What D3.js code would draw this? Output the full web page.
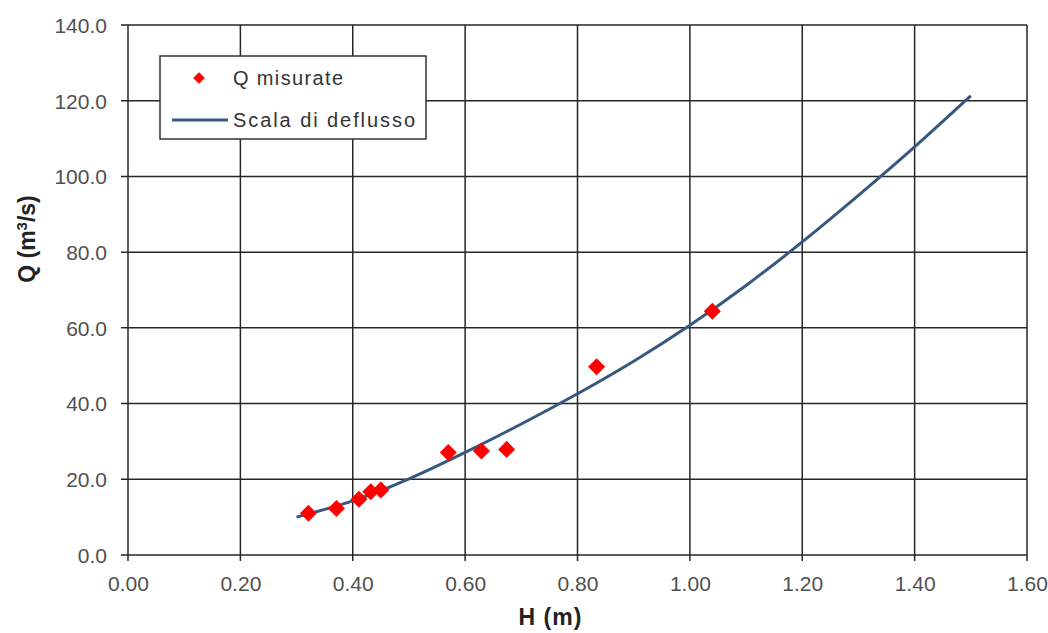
<!DOCTYPE html>
<html>
<head>
<meta charset="utf-8">
<script src="https://cdn.jsdelivr.net/npm/d3@7"></script>
<style>
  html, body { margin: 0; padding: 0; background: #fff; }
  svg { display: block; }
</style>
</head>
<body>
<svg id="chart" width="1048" height="633"></svg>
<script>
// Measured discharges
const measuredH = [0.321, 0.371, 0.411, 0.432, 0.450, 0.570, 0.629, 0.674, 0.834, 1.040];
const measuredQ = [11.0, 12.3, 14.7, 16.7, 17.2, 27.1, 27.5, 27.9, 49.7, 64.4];
// Rating curve (scala di deflusso)
const curveH = [0.30, 0.40, 0.50, 0.60, 0.70, 0.80, 0.90, 1.00, 1.10, 1.20, 1.30, 1.40, 1.50];
const curveQ = [10.0, 14.3, 20.1, 27.1, 34.6, 42.6, 51.2, 60.7, 71.2, 82.7, 95.0, 107.8, 121.3];
// Axis ticks
const xTicks = [0, 0.2, 0.4, 0.6, 0.8, 1.0, 1.2, 1.4, 1.6];
const yTicks = [0, 20, 40, 60, 80, 100, 120, 140];
const seriesNames = ["Q misurate", "Scala di deflusso"];

const svg = d3.select("#chart");
const pLeft = 128, pRight = 1027, pTop = 25, pBottom = 555;
const x = d3.scaleLinear().domain([0, 1.6]).range([pLeft, pRight]);
const y = d3.scaleLinear().domain([0, 140]).range([pBottom, pTop]);
const font = "'Liberation Sans', Arial, sans-serif";
const gridColor = "#262626";

// Grid
const g = svg.append("g");
g.selectAll("line.vg").data(xTicks).join("line")
  .attr("x1", d => x(d)).attr("x2", d => x(d))
  .attr("y1", pTop).attr("y2", pBottom + 6)
  .attr("stroke", gridColor).attr("stroke-width", 1.5);
g.selectAll("line.hg").data(yTicks).join("line")
  .attr("x1", pLeft - 7).attr("x2", pRight)
  .attr("y1", d => y(d)).attr("y2", d => y(d))
  .attr("stroke", gridColor).attr("stroke-width", 1.5);

// Axes labels via d3 axes (lines hidden, labels only)
const xAxis = d3.axisBottom(x).tickValues(xTicks).tickFormat(d3.format(".2f")).tickSize(0).tickPadding(0);
const yAxis = d3.axisLeft(y).tickValues(yTicks).tickFormat(d3.format(".1f")).tickSize(0).tickPadding(0);
const gx = svg.append("g").attr("transform", `translate(0,${pBottom})`).call(xAxis);
gx.select(".domain").remove();
gx.selectAll("text").attr("y", 29).attr("dy", "0.35em")
  .attr("font-family", font).attr("font-size", 21).attr("fill", "#505050");
const gy = svg.append("g").attr("transform", `translate(${pLeft},0)`).call(yAxis);
gy.select(".domain").remove();
gy.selectAll("text").attr("x", -21).attr("dy", "0.35em")
  .attr("font-family", font).attr("font-size", 21).attr("fill", "#505050");

// Rating curve
const curve = curveH.map((h, i) => [h, curveQ[i]]);
svg.append("path")
  .datum(curve)
  .attr("d", d3.line().x(d => x(d[0])).y(d => y(d[1])).curve(d3.curveNatural))
  .attr("fill", "none").attr("stroke", "#37587f").attr("stroke-width", 3);

// Measured points
const pts = measuredH.map((h, i) => [h, measuredQ[i]]);
const diamond = d3.symbol().type(d3.symbolSquare).size(145);
svg.selectAll("path.pt").data(pts).join("path")
  .attr("d", diamond)
  .attr("transform", d => `translate(${x(d[0])},${y(d[1])}) rotate(45)`)
  .attr("fill", "#ff0000");

// Axis titles
svg.append("text")
  .attr("x", 550).attr("y", 625)
  .attr("text-anchor", "middle")
  .attr("font-family", font).attr("font-size", 23).attr("font-weight", "bold")
  .attr("fill", "#222")
  .attr("textLength", 63).attr("lengthAdjust", "spacing")
  .text("H (m)");
const yt = svg.append("text")
  .attr("transform", "translate(35,239) rotate(-90)")
  .attr("text-anchor", "middle")
  .attr("font-family", font).attr("font-size", 23).attr("font-weight", "bold")
  .attr("fill", "#222");
yt.append("tspan").text("Q (m");
yt.append("tspan").attr("font-size", 15).attr("dy", -8).text("3");
yt.append("tspan").attr("dy", 8).text("/s)");

// Legend
const lg = svg.append("g");
lg.append("rect").attr("x", 160).attr("y", 56).attr("width", 266).attr("height", 83)
  .attr("fill", "#fff").attr("stroke", "#333").attr("stroke-width", 1.5);
lg.append("path")
  .attr("d", d3.symbol().type(d3.symbolSquare).size(68))
  .attr("transform", "translate(199,78) rotate(45)")
  .attr("fill", "#ff0000");
lg.append("line").attr("x1", 172).attr("x2", 228).attr("y1", 120).attr("y2", 120)
  .attr("stroke", "#37587f").attr("stroke-width", 3);
const legendWidths = [110, 182];
lg.selectAll("text").data(seriesNames).join("text")
  .attr("x", 233).attr("y", (d, i) => 78 + i * 42).attr("dy", "0.35em")
  .attr("font-family", font).attr("font-size", 20).attr("fill", "#333")
  .attr("textLength", (d, i) => legendWidths[i]).attr("lengthAdjust", "spacing")
  .text(d => d);
</script>
</body>
</html>
